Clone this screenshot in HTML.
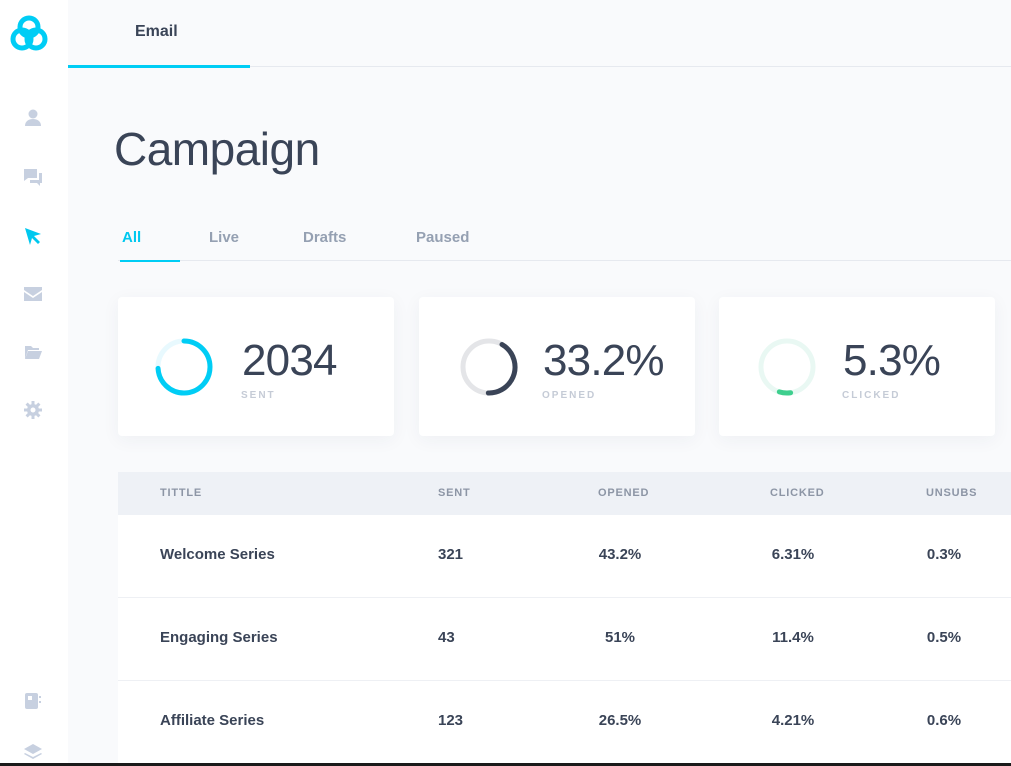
<!DOCTYPE html>
<html><head><meta charset="utf-8"><style>
*{margin:0;padding:0;box-sizing:border-box}
body{width:1011px;height:766px;overflow:hidden;background:#f9fafc;font-family:"Liberation Sans",sans-serif;position:relative;color:#3a4457}
.abs{position:absolute}
#side{left:0;top:0;width:68px;height:763px;background:#fff}
.ic{position:absolute;left:23px;width:20px;height:20px;fill:#c7d0e0}
#topbar{left:68px;top:0;right:0;height:67px;border-bottom:1px solid #e6e9ef}
.card{position:absolute;top:297px;width:276px;height:139px;background:#fff;border-radius:4px;box-shadow:0 4px 18px rgba(40,50,80,.05)}
.big{position:absolute;left:124px;top:39px;font-size:44px;color:#3a4457;letter-spacing:-0.8px}
.lbl{position:absolute;left:123px;top:93px;font-size:10px;font-weight:bold;letter-spacing:2px;color:#c5cbd6}
.row{position:absolute;left:118px;width:900px;height:83px;background:#fff;border-bottom:1px solid #eef0f4;font-size:15px;font-weight:bold;color:#3a4457}
.row span,.hd span{position:absolute;top:0}
.hd{position:absolute;left:118px;top:472px;width:900px;height:43px;background:#eef1f6;font-size:11px;font-weight:bold;letter-spacing:.8px;color:#8c95a5}
</style></head><body>
<div id="side" class="abs">
<svg class="abs" style="left:9px;top:14px" width="40" height="38" viewBox="0 0 40 38"><g fill="none" stroke="#00cdf5" stroke-width="5"><circle cx="20" cy="13" r="9"/><circle cx="13" cy="25" r="9"/><circle cx="27" cy="25" r="9"/></g></svg>
<svg class="ic" style="top:108px" viewBox="0 0 20 20"><circle cx="10" cy="6" r="4.5"/><path d="M2 18c0-5 4-7 8-7s8 2 8 7z"/></svg>
<svg class="ic" style="top:167px" viewBox="0 0 20 20"><path d="M1 2h13v9H5l-4 3z"/><path d="M16 6h3v10h-2v3l-3-3H7v-3h9z"/></svg>
<svg class="ic" style="top:226px" viewBox="0 0 20 20"><path fill="#00c8ef" d="M2 2l16 6-7 2 6 6-2 2-6-6-2 7z"/></svg>
<svg class="ic" style="top:284px" viewBox="0 0 20 20"><path d="M1 3h18v3l-9 6-9-6z"/><path d="M1 8l9 6 9-6v9H1z"/></svg>
<svg class="ic" style="top:342px" viewBox="0 0 20 20"><path d="M2 4h6l2 2h6v2H5l-3 9z"/><path d="M5 9h14l-3 8H2z"/></svg>
<svg class="ic" style="top:400px" viewBox="0 0 20 20"><circle cx="10" cy="10" r="6"/><g stroke="#c7d0e0" stroke-width="3"><path d="M10 1v18M1 10h18M3.6 3.6l12.8 12.8M16.4 3.6L3.6 16.4"/></g><circle cx="10" cy="10" r="2.5" fill="#fff"/></svg>
<svg class="ic" style="top:691px" viewBox="0 0 20 20"><rect x="2" y="2" width="13" height="16" rx="2"/><rect x="16" y="5" width="2" height="2"/><rect x="16" y="10" width="2" height="2"/><rect x="5" y="5" width="4" height="4" fill="#fff"/></svg>
<svg class="ic" style="top:742px" viewBox="0 0 20 20"><path d="M10 2l9 5-9 5-9-5z"/><path d="M2 11l8 4 8-4 1 1-9 5-9-5z"/></svg>
</div>
<div id="topbar" class="abs">
<div class="abs" style="left:67px;top:23px;font-size:16px;font-weight:bold;color:#3a4457">Email</div>
<div class="abs" style="left:0;top:65px;width:182px;height:3px;background:#00cdf5"></div>
</div>
<div class="abs" style="left:114px;top:122px;font-size:46px;color:#3a4457;letter-spacing:-.5px">Campaign</div>
<div class="abs" style="left:118px;top:260px;width:893px;height:1px;background:#e6e9ef"></div>
<div class="abs" style="left:120px;top:260px;width:60px;height:2px;background:#00cdf5"></div>
<div class="abs" style="left:122px;top:229px;font-size:15px;font-weight:bold;color:#00c8ef">All</div>
<div class="abs" style="left:209px;top:229px;font-size:15px;font-weight:bold;color:#95a0b2">Live</div>
<div class="abs" style="left:303px;top:229px;font-size:15px;font-weight:bold;color:#95a0b2">Drafts</div>
<div class="abs" style="left:416px;top:229px;font-size:15px;font-weight:bold;color:#95a0b2">Paused</div>

<div class="card" style="left:118px">
<svg class="abs" style="left:36px;top:40px" width="60" height="60"><circle cx="30" cy="30" r="26" fill="none" stroke="#e8f9fe" stroke-width="5"/><circle id="r1" cx="30" cy="30" r="26" fill="none" stroke="#00cdf5" stroke-width="5" stroke-linecap="round" transform="rotate(-90 30 30)"/></svg>
<div class="big">2034</div><div class="lbl">SENT</div></div>
<div class="card" style="left:419px">
<svg class="abs" style="left:40px;top:40px" width="60" height="60"><circle cx="30" cy="30" r="26" fill="none" stroke="#e4e5e8" stroke-width="5"/><circle id="r2" cx="30" cy="30" r="26" fill="none" stroke="#3a4457" stroke-width="5" stroke-linecap="round" transform="rotate(-60 30 30)"/></svg>
<div class="big">33.2%</div><div class="lbl">OPENED</div></div>
<div class="card" style="left:719px">
<svg class="abs" style="left:38px;top:40px" width="60" height="60"><circle cx="30" cy="30" r="26" fill="none" stroke="#e9f8f3" stroke-width="5"/><circle id="r3" cx="30" cy="30" r="26" fill="none" stroke="#3ecf8e" stroke-width="5" stroke-linecap="round" transform="rotate(82 30 30)"/></svg>
<div class="big">5.3%</div><div class="lbl">CLICKED</div></div>

<div class="hd">
<span style="left:42px;top:15px">TITTLE</span><span style="left:320px;top:15px">SENT</span><span style="left:480px;top:15px">OPENED</span><span style="left:652px;top:15px">CLICKED</span><span style="left:808px;top:15px">UNSUBS</span></div>
<div id="rows"></div>
<div class="abs" style="left:0;top:763px;width:1011px;height:3px;background:#1a1a1a"></div>
<script>
const C=2*Math.PI*26;
const ringFractions=[0.74,0.42,0.07];
['r1','r2','r3'].forEach((id,i)=>{const e=document.getElementById(id);e.setAttribute('stroke-dasharray',(C*ringFractions[i])+' '+C);});
const titles=['Welcome Series','Engaging Series','Affiliate Series'];
const sent=['321','43','123'];
const opened=['43.2%','51%','26.5%'];
const clicked=['6.31%','11.4%','4.21%'];
const unsubs=['0.3%','0.5%','0.6%'];
const host=document.getElementById('rows');
titles.forEach((t,i)=>{
 const r=document.createElement('div');r.className='row';r.style.top=(515+i*83)+'px';
 
 
 r.innerHTML=`<span style="left:42px;top:31px">${t}</span><span style="left:320px;top:31px">${sent[i]}</span><span style="left:502px;width:0;top:31px"><b style="position:absolute;transform:translateX(-50%)">${opened[i]}</b></span><span style="left:675px;width:0;top:31px"><b style="position:absolute;transform:translateX(-50%)">${clicked[i]}</b></span><span style="left:826px;width:0;top:31px"><b style="position:absolute;transform:translateX(-50%)">${unsubs[i]}</b></span>`;
 host.appendChild(r);
});
</script>
</body></html>
